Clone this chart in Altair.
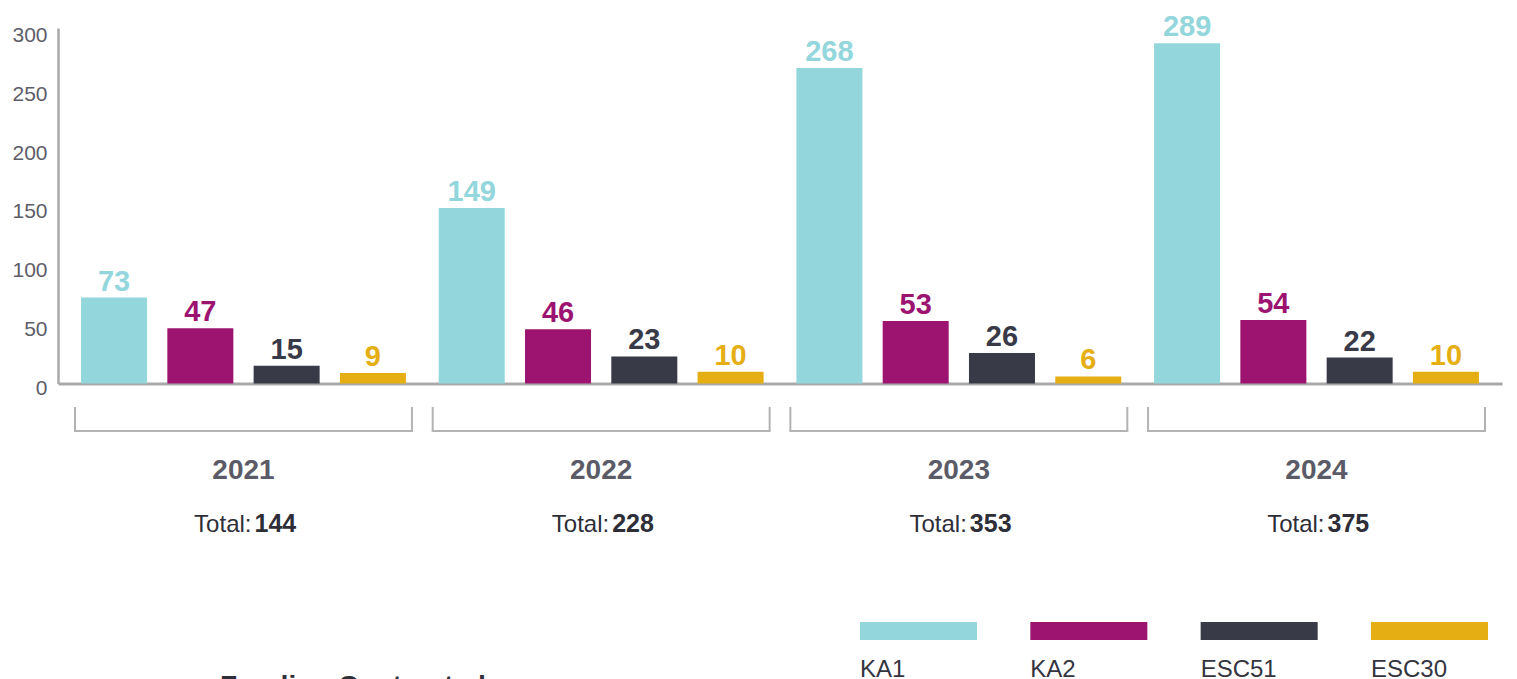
import altair as alt
import pandas as pd

years = ["2021", "2022", "2023", "2024"]
series = ["KA1", "KA2", "ESC51", "ESC30"]
ka1 = [73, 149, 268, 289]
ka2 = [47, 46, 53, 54]
esc51 = [15, 23, 26, 22]
esc30 = [9, 10, 6, 10]
totals = [144, 228, 353, 375]
colors = ["#93d6db", "#9c1470", "#393a47", "#e5ae13"]
y_ticks = [0, 50, 100, 150, 200, 250, 300]
footer_text = "Funding Contracted"

rows = []
for i, yr in enumerate(years):
    for s, vals in zip(series, [ka1, ka2, esc51, esc30]):
        rows.append({"year": yr, "series": s, "value": vals[i]})
df = pd.DataFrame(rows)
tot_df = pd.DataFrame({"year": years, "total": totals, "label": ["Total:"] * len(years)})
leg_df = pd.DataFrame({"series": series})
foot_df = pd.DataFrame({"t": [footer_text]})

FONT = "Liberation Sans"
GRAY = "#a9a9a9"

x_scale = alt.Scale(domain=years, paddingInner=0, paddingOuter=0.0186)
x_axis = alt.Axis(labels=False, ticks=False, title=None, grid=False,
                  domainColor=GRAY, domainWidth=3)
x_enc = alt.X("year:N", scale=x_scale, axis=x_axis)
xoff = alt.XOffset("series:N", scale=alt.Scale(domain=series, paddingInner=0.235, paddingOuter=0.19))
color = alt.Color("series:N", scale=alt.Scale(domain=series, range=colors), legend=None)
y_enc = alt.Y("value:Q", scale=alt.Scale(domain=[0, 302], nice=False),
              axis=alt.Axis(values=y_ticks, ticks=False, grid=False, title=None,
                            domainColor=GRAY, domainWidth=2.5, labelFont=FONT,
                            labelFontSize=21, labelColor="#5d5d69", labelPadding=11,
                            labelOffset=5))

bars = alt.Chart(df).mark_bar().encode(x=x_enc, xOffset=xoff, y=y_enc, color=color)

labels = alt.Chart(df).mark_text(font=FONT, fontSize=29, fontWeight="bold",
                                 baseline="alphabetic", dy=-7).encode(
    x=x_enc, xOffset=xoff, y=y_enc, text="value:Q", color=color)

br_left = alt.Chart(tot_df).mark_rule(color="#b3b3b3", strokeWidth=2).encode(
    x=alt.X("year:N", scale=x_scale, axis=x_axis, bandPosition=0.029),
    y=alt.value(379), y2=alt.value(403))
br_right = alt.Chart(tot_df).mark_rule(color="#b3b3b3", strokeWidth=2).encode(
    x=alt.X("year:N", scale=x_scale, axis=x_axis, bandPosition=0.971),
    y=alt.value(379), y2=alt.value(403))
br_h = alt.Chart(tot_df).mark_bar(color="#b3b3b3", width=339).encode(
    x=x_enc, y=alt.value(402), y2=alt.value(404))

year_text = alt.Chart(tot_df).mark_text(font=FONT, fontSize=28, fontWeight="bold",
                                        color="#5b5b68", baseline="alphabetic").encode(
    x=x_enc, y=alt.value(451), text="year:N")
tot_lbl = alt.Chart(tot_df).mark_text(font=FONT, fontSize=24, color="#2e2e38",
                                      align="right", baseline="alphabetic", dx=8).encode(
    x=x_enc, y=alt.value(504), text="label:N")
tot_num = alt.Chart(tot_df).mark_text(font=FONT, fontSize=25, fontWeight="bold", color="#2e2e38",
                                      align="left", baseline="alphabetic", dx=11).encode(
    x=x_enc, y=alt.value(504), text="total:Q")

main = alt.layer(br_h, br_left, br_right, bars, labels, year_text, tot_lbl, tot_num)

leg_scale = alt.Scale(domain=series, range=[802, 1430], paddingInner=0.313, paddingOuter=0)
leg_rects = alt.Chart(leg_df).mark_bar().encode(
    x=alt.X("series:N", scale=leg_scale, axis=None),
    y=alt.value(594), y2=alt.value(612), color=color)
leg_text = alt.Chart(leg_df).mark_text(font=FONT, fontSize=24, color="#34343f",
                                       align="left", baseline="alphabetic").encode(
    x=alt.X("series:N", scale=leg_scale, axis=None, bandPosition=0),
    y=alt.value(649), text="series:N")
legend = alt.layer(leg_rects, leg_text)

footer = alt.Chart(foot_df).mark_text(font=FONT, fontSize=28, fontWeight="bold",
                                      color="#2e2e38", align="left",
                                      baseline="alphabetic").encode(
    x=alt.value(162), y=alt.value(667), text="t:N")

chart = alt.layer(main, legend, footer).resolve_scale(x="independent").properties(
    width=1444, height=355.5,
    autosize=alt.AutoSizeParams(type="none"),
    padding={"left": 50, "top": 20, "right": 7, "bottom": 318},
    background="white",
).configure_view(stroke=None)

chart.save("out.html", embed_options={"renderer": "svg", "actions": False})
